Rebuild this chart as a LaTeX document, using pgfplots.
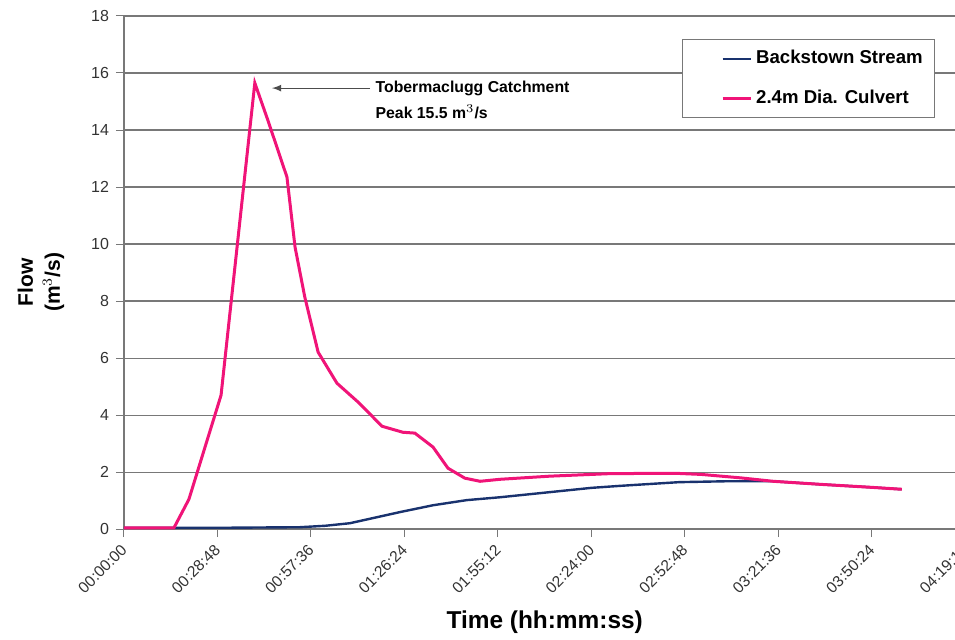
\documentclass[border=0pt]{standalone}
\usepackage{pgfplots}
\pgfplotsset{compat=1.18}
\usepackage{fontspec}
\setmainfont{Liberation Sans}
\definecolor{culvert}{RGB}{240,20,120}
\definecolor{stream}{RGB}{25,50,110}
\definecolor{gridc}{RGB}{120,120,120}

\begin{document}
\begin{tikzpicture}
\begin{axis}[
    scale only axis,
    width=420.5pt, height=256.5pt,
    xmin=0, xmax=259.2, ymin=0, ymax=18,
    axis x line*=bottom, axis y line*=left,
    axis line style={gridc, line width=0.8pt},
    tick align=outside,
    tick style={gridc, line width=0.5pt},
    major tick length=4pt,
    xtick={0,28.8,57.6,86.4,115.2,144,172.8,201.6,230.4,259.2},
    xticklabels={00:00:00,00:28:48,00:57:36,01:26:24,01:55:12,02:24:00,02:52:48,03:21:36,03:50:24,04:19:12},
    xticklabel style={xshift=-2pt, yshift=-1.5pt, rotate=45, anchor=north east, font=\fontsize{7.8}{9}\selectfont, text=black!80, inner sep=1pt},
    ytick={0,2,...,18},
    yticklabel style={font=\fontsize{8}{9}\selectfont, text=black!80},
    /pgf/number format/assume math mode=true,
    ymajorgrids,
    grid style={gridc, line width=0.6pt},
    xlabel={\bfseries Time (hh:mm:ss)},
    xlabel style={at={(axis description cs:0.5,-0.181)}, anchor=center, font=\fontsize{12.2}{14}\selectfont},
    ylabel={\bfseries Flow\\\bfseries (m$^{3}$/s)},
    ylabel style={at={(axis description cs:-0.0987,0.481)}, anchor=center, align=center, font=\fontsize{10.5}{13.5}\selectfont},
    legend style={at={(0.964,0.955)}, anchor=north east, draw=gridc, fill=white,
        font=\bfseries\fontsize{9.3}{10}\selectfont, inner xsep=4pt, inner ysep=3.5pt, row sep=7.5pt},
    legend cell align=left,
    legend image code/.code={\path[draw=none, fill=none] (0pt,0pt) -- (16pt,0pt); \draw[#1] (16pt,0pt) -- (30pt,0pt);},
    clip=false,
]
\addplot[stream, line width=1.2pt] coordinates {
    (0,0.05) (30,0.05) (54.2,0.07) (62,0.12) (69.6,0.21) (77.9,0.42)
    (85.0,0.60) (95.2,0.84) (105.6,1.02) (115.8,1.12) (131.2,1.30)
    (144,1.45) (152.8,1.52) (171,1.65) (185,1.68) (200,1.68)
    (215,1.57) (230,1.47) (239.6,1.40)
};
\addlegendentry{Backstown Stream}
\addplot[culvert, line width=1.5pt] coordinates {
    (0,0.05) (15.4,0.05) (20.0,1.05) (29.9,4.70) (40.3,15.65) (44.3,14.35)
    (50.2,12.35) (52.7,9.89) (55.7,8.14) (59.8,6.21) (65.6,5.12) (72.1,4.46)
    (79.5,3.61) (85.9,3.40) (89.6,3.37) (95.2,2.88) (99.8,2.14) (105.0,1.79)
    (109.7,1.68) (115.8,1.75) (131.2,1.86) (150,1.95) (170,1.96) (178,1.92)
    (190,1.80) (200,1.68) (215,1.57) (230,1.47) (239.6,1.40)
};
\addlegendentry{2.4m Dia. Culvert}
\draw[-latex, black!70, line width=0.6pt] (axis cs:75.8,15.47) -- (axis cs:45.6,15.47);
\node[anchor=west, font=\bfseries\fontsize{7.9}{9}\selectfont, inner sep=0pt] at (axis cs:77.4,15.47) {Tobermaclugg Catchment};
\node[anchor=west, font=\bfseries\fontsize{7.9}{9}\selectfont, inner sep=0pt] at (axis cs:77.4,14.63) {Peak 15.5 m$^{3}$/s};
\coordinate (bbsw) at (axis cs:-38.2,-3.86);
\coordinate (bbne) at (axis cs:256.0,18.56);
\end{axis}
\pgfresetboundingbox
\path[use as bounding box] (bbsw) rectangle (bbne);
\end{tikzpicture}
\end{document}
